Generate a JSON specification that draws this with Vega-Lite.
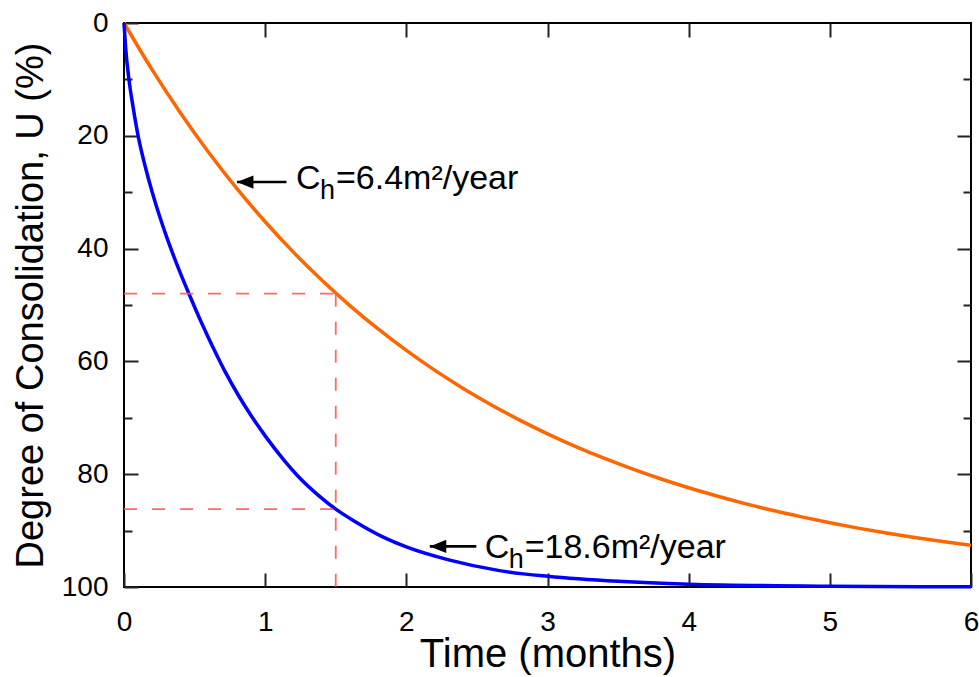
{
  "$schema": "https://vega.github.io/schema/vega-lite/v6.json",
  "width": 847,
  "height": 564,
  "autosize": {"type": "none"},
  "padding": {"left": 124, "top": 23, "right": 8, "bottom": 90},
  "background": "white",
  "config": {
    "view": {"stroke": "black", "strokeWidth": 2},
    "font": "Liberation Sans",
    "axis": {"domain": false, "grid": false, "tickColor": "#222", "tickWidth": 2, "labelColor": "black", "titleColor": "black", "labelFont": "Liberation Sans", "titleFont": "Liberation Sans", "titleFontWeight": "normal", "labelFlush": false}
  },
  "datasets": {
    "curves": [
      {"t": 0, "U": 0, "series": "6.4"},
      {"t": 0.2, "U": 8.32, "series": "6.4"},
      {"t": 0.4, "U": 15.95, "series": "6.4"},
      {"t": 0.6, "U": 22.95, "series": "6.4"},
      {"t": 0.8, "U": 29.36, "series": "6.4"},
      {"t": 1.0, "U": 35.24, "series": "6.4"},
      {"t": 1.2, "U": 40.63, "series": "6.4"},
      {"t": 1.4, "U": 45.57, "series": "6.4"},
      {"t": 1.6, "U": 50.1, "series": "6.4"},
      {"t": 1.8, "U": 54.25, "series": "6.4"},
      {"t": 2.0, "U": 58.06, "series": "6.4"},
      {"t": 2.2, "U": 61.55, "series": "6.4"},
      {"t": 2.4, "U": 64.75, "series": "6.4"},
      {"t": 2.6, "U": 67.68, "series": "6.4"},
      {"t": 2.8, "U": 70.37, "series": "6.4"},
      {"t": 3.0, "U": 72.84, "series": "6.4"},
      {"t": 3.2, "U": 75.1, "series": "6.4"},
      {"t": 3.4, "U": 77.17, "series": "6.4"},
      {"t": 3.6, "U": 79.07, "series": "6.4"},
      {"t": 3.8, "U": 80.81, "series": "6.4"},
      {"t": 4.0, "U": 82.41, "series": "6.4"},
      {"t": 4.2, "U": 83.87, "series": "6.4"},
      {"t": 4.4, "U": 85.22, "series": "6.4"},
      {"t": 4.6, "U": 86.45, "series": "6.4"},
      {"t": 4.8, "U": 87.57, "series": "6.4"},
      {"t": 5.0, "U": 88.61, "series": "6.4"},
      {"t": 5.2, "U": 89.56, "series": "6.4"},
      {"t": 5.4, "U": 90.43, "series": "6.4"},
      {"t": 5.6, "U": 91.22, "series": "6.4"},
      {"t": 5.8, "U": 91.95, "series": "6.4"},
      {"t": 6.0, "U": 92.62, "series": "6.4"},
      {"t": 0, "U": 0, "series": "18.6"},
      {"t": 0.012, "U": 4.5, "series": "18.6"},
      {"t": 0.035, "U": 10, "series": "18.6"},
      {"t": 0.065, "U": 15, "series": "18.6"},
      {"t": 0.1, "U": 20, "series": "18.6"},
      {"t": 0.15, "U": 25.4, "series": "18.6"},
      {"t": 0.2, "U": 30, "series": "18.6"},
      {"t": 0.25, "U": 34.1, "series": "18.6"},
      {"t": 0.3, "U": 37.8, "series": "18.6"},
      {"t": 0.35, "U": 41.2, "series": "18.6"},
      {"t": 0.4, "U": 44.4, "series": "18.6"},
      {"t": 0.46, "U": 48, "series": "18.6"},
      {"t": 0.55, "U": 53.2, "series": "18.6"},
      {"t": 0.63, "U": 57.5, "series": "18.6"},
      {"t": 0.72, "U": 62, "series": "18.6"},
      {"t": 0.81, "U": 66, "series": "18.6"},
      {"t": 0.9, "U": 69.6, "series": "18.6"},
      {"t": 1.0, "U": 73.2, "series": "18.6"},
      {"t": 1.13, "U": 77.4, "series": "18.6"},
      {"t": 1.25, "U": 80.8, "series": "18.6"},
      {"t": 1.375, "U": 83.7, "series": "18.6"},
      {"t": 1.5, "U": 86.2, "series": "18.6"},
      {"t": 1.65, "U": 88.6, "series": "18.6"},
      {"t": 1.84, "U": 91.2, "series": "18.6"},
      {"t": 2.0, "U": 92.9, "series": "18.6"},
      {"t": 2.3, "U": 95.2, "series": "18.6"},
      {"t": 2.66, "U": 97.1, "series": "18.6"},
      {"t": 3.0, "U": 98.1, "series": "18.6"},
      {"t": 3.5, "U": 99.0, "series": "18.6"},
      {"t": 4.0, "U": 99.5, "series": "18.6"},
      {"t": 5.0, "U": 99.86, "series": "18.6"},
      {"t": 6.0, "U": 99.96, "series": "18.6"}
    ],
    "guides": [
      {"t": 0, "U": 48, "t2": 1.5, "U2": 48},
      {"t": 0, "U": 86.2, "t2": 1.5, "U2": 86.2},
      {"t": 1.5, "U": 48, "t2": 1.5, "U2": 100}
    ],
    "notes": [
      {"tip": 0.8, "tail": 1.151, "U": 28.2, "textT": 1.218, "textU": 29.4, "main": "C", "sub": "h", "rest": "=6.4m²/year"},
      {"tip": 2.166, "tail": 2.496, "U": 92.8, "textT": 2.555, "textU": 94.9, "main": "C", "sub": "h", "rest": "=18.6m²/year"}
    ]
  },
  "resolve": {"scale": {"x": "shared", "y": "shared"}, "axis": {"x": "independent", "y": "independent"}},
  "layer": [
    {
      "data": {"name": "curves"},
      "mark": {"type": "line", "strokeWidth": 3.5, "interpolate": "monotone"},
      "encoding": {
        "x": {"field": "t", "type": "quantitative", "scale": {"domain": [0, 6], "nice": false},
          "axis": {"orient": "bottom", "values": [0, 1, 2, 3, 4, 5, 6], "format": "d", "tickSize": -14, "labelFontSize": 28, "labelPadding": 35, "title": "Time (months)", "titleFontSize": 40, "titlePadding": -2}},
        "y": {"field": "U", "type": "quantitative", "scale": {"domain": [0, 100], "reverse": true, "nice": false},
          "axis": {"orient": "left", "values": [0, 20, 40, 60, 80, 100], "format": "d", "tickSize": -14, "labelFontSize": 28, "labelPadding": 30, "title": "Degree of Consolidation, U (%)", "titleFontSize": 38, "titlePadding": 11}},
        "color": {"field": "series", "type": "nominal", "scale": {"domain": ["6.4", "18.6"], "range": ["#FF6600", "#0000FF"]}, "legend": null}
      }
    },
    {
      "data": {"name": "guides"},
      "mark": {"type": "rule", "color": "#FF5A5A", "strokeWidth": 1.8, "strokeDash": [13, 15], "opacity": 0.9},
      "encoding": {
        "x": {"field": "t", "type": "quantitative", "scale": {"domain": [0, 6], "nice": false},
          "axis": {"orient": "top", "values": [1, 2, 3, 4, 5], "tickSize": -14, "labels": false, "title": null}},
        "x2": {"field": "t2"},
        "y": {"field": "U", "type": "quantitative", "scale": {"domain": [0, 100], "reverse": true, "nice": false},
          "axis": {"orient": "right", "values": [20, 40, 60, 80], "tickSize": -14, "labels": false, "title": null}},
        "y2": {"field": "U2"}
      }
    },
    {
      "data": {"name": "notes"},
      "mark": {"type": "rule", "color": "black", "strokeWidth": 2.6},
      "encoding": {
        "x": {"field": "tip", "type": "quantitative", "scale": {"domain": [0, 6], "nice": false}, "axis": null},
        "x2": {"field": "tail"},
        "y": {"field": "U", "type": "quantitative", "scale": {"domain": [0, 100], "reverse": true, "nice": false},
          "axis": {"orient": "left", "values": [10, 30, 50, 70, 90], "tickSize": -8, "labels": false, "title": null}}
      }
    },
    {
      "data": {"name": "notes"},
      "mark": {"type": "point", "shape": "M0,0L1,-0.4L1,0.4Z", "filled": true, "color": "black", "opacity": 1, "size": 1089},
      "encoding": {
        "x": {"field": "tip", "type": "quantitative", "scale": {"domain": [0, 6], "nice": false}, "axis": null},
        "y": {"field": "U", "type": "quantitative", "scale": {"domain": [0, 100], "reverse": true, "nice": false},
          "axis": {"orient": "right", "values": [10, 30, 50, 70, 90], "tickSize": -8, "labels": false, "title": null}}
      }
    },
    {
      "data": {"name": "notes"},
      "mark": {"type": "text", "align": "left", "baseline": "alphabetic", "fontSize": 34, "font": "Liberation Sans", "color": "black"},
      "encoding": {
        "x": {"field": "textT", "type": "quantitative", "scale": {"domain": [0, 6], "nice": false}, "axis": null},
        "y": {"field": "textU", "type": "quantitative", "scale": {"domain": [0, 100], "reverse": true, "nice": false}, "axis": null},
        "text": {"field": "main"}
      }
    },
    {
      "data": {"name": "notes"},
      "mark": {"type": "text", "align": "left", "baseline": "alphabetic", "fontSize": 27, "font": "Liberation Sans", "color": "black", "dx": 24, "dy": 10},
      "encoding": {
        "x": {"field": "textT", "type": "quantitative", "scale": {"domain": [0, 6], "nice": false}, "axis": null},
        "y": {"field": "textU", "type": "quantitative", "scale": {"domain": [0, 100], "reverse": true, "nice": false}, "axis": null},
        "text": {"field": "sub"}
      }
    },
    {
      "data": {"name": "notes"},
      "mark": {"type": "text", "align": "left", "baseline": "alphabetic", "fontSize": 34, "font": "Liberation Sans", "color": "black", "dx": 40},
      "encoding": {
        "x": {"field": "textT", "type": "quantitative", "scale": {"domain": [0, 6], "nice": false}, "axis": null},
        "y": {"field": "textU", "type": "quantitative", "scale": {"domain": [0, 100], "reverse": true, "nice": false}, "axis": null},
        "text": {"field": "rest"}
      }
    }
  ]
}
